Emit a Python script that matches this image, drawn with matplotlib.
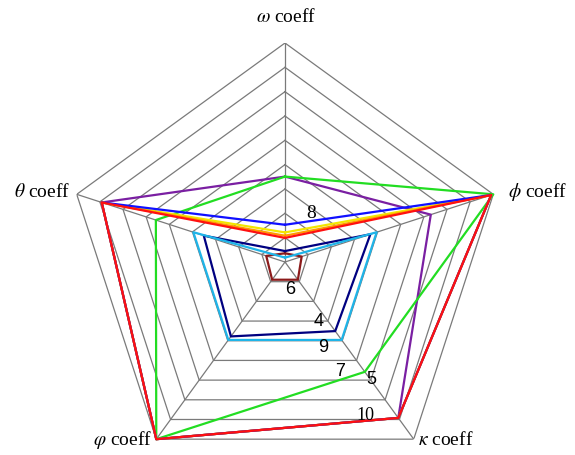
import numpy as np
import matplotlib
matplotlib.use("Agg")
import matplotlib.pyplot as plt

plt.rcParams['mathtext.fontset'] = 'stix'

# ---- data ----
axis_labels = [r'$\omega$ coeff', r'$\phi$ coeff', r'$\kappa$ coeff',
               r'$\varphi$ coeff', r'$\theta$ coeff']
n_rings = 9

s4_navy   = [0.05, 0.41, 0.39, 0.42, 0.39]
s5_purple = [0.39, 0.70, 0.88, 1.00, 0.88]
s6_brown  = [0.04, 0.08, 0.10, 0.10, 0.09]
s7_green  = [0.39, 1.00, 0.62, 1.00, 0.62]
s8_blue   = [0.17, 0.99, 0.88, 1.00, 0.88]
s9_cyan   = [0.02, 0.44, 0.44, 0.44, 0.44]
s10_red   = [0.11, 0.99, 0.88, 1.00, 0.88]
s_yellow  = [0.135, 0.99, 0.88, 1.00, 0.88]
s_orange  = [0.12, 0.99, 0.88, 1.00, 0.88]

series = [
    (s6_brown, '#8b1a1a'),
    (s4_navy, '#000080'),
    (s9_cyan, '#1fb4e8'),
    (s5_purple, '#7a1fa2'),
    (s7_green, '#22dd22'),
    (s_yellow, '#f2e600'),
    (s_orange, '#ff9900'),
    (s8_blue, '#1010ff'),
    (s10_red, '#ff1010'),
]

series_labels = ['8', '6', '4', '9', '7', '5', '10']
label_px = [(311, 213), (290, 290), (319, 322), (323, 347), (340, 371), (371, 379), (365, 415)]
label_sizes = [14, 13, 13, 13, 13, 13, 13]
label_fams = ['Liberation Serif', 'Liberation Sans', 'Liberation Sans', 'Liberation Sans',
              'Liberation Sans', 'Liberation Sans', 'Liberation Serif']

# ---- figure ----
W, H = 575, 455
fig = plt.figure(figsize=(W / 100, H / 100), dpi=100)
cx, cy, R = 285, 262, 219
ax = fig.add_axes([(cx - R) / W, (H - cy - R) / H, 2 * R / W, 2 * R / H],
                  projection='polar')
ax.set_theta_offset(np.pi / 2)
ax.set_theta_direction(-1)
ax.set_ylim(0, 1)
ax.grid(False)
ax.spines['polar'].set_visible(False)
ax.set_xticks([])
ax.set_yticks([])
ax.patch.set_alpha(0)

n = len(axis_labels)
angles = np.arange(n) * 2 * np.pi / n
closed = np.append(angles, angles[0])

for k in range(1, n_rings + 1):
    ax.plot(closed, [k / n_rings] * (n + 1), color='#7a7a7a', lw=0.9, zorder=1)
for a in angles:
    ax.plot([a, a], [0, 1], color='#7a7a7a', lw=0.9, zorder=1)

for vals, col in series:
    v = list(vals) + [vals[0]]
    ax.plot(closed, v, color=col, lw=1.6, zorder=3, clip_on=False)

# axis labels
lab_px = [(286, 17, 'center'), (508, 192, 'left'), (418, 440, 'left'),
          (152, 440, 'right'), (70, 192, 'right')]
for (x, y, ha), t in zip(lab_px, axis_labels):
    fig.text(x / W, 1 - y / H, t, ha=ha, va='center', fontsize=14,
             family='Liberation Serif')

for t, (x, y), fs, fam in zip(series_labels, label_px, label_sizes, label_fams):
    fig.text(x / W, 1 - y / H, t, ha='center', va='center', fontsize=fs,
             family=fam, color='black', zorder=5)

fig.savefig('out.png', dpi=100)
